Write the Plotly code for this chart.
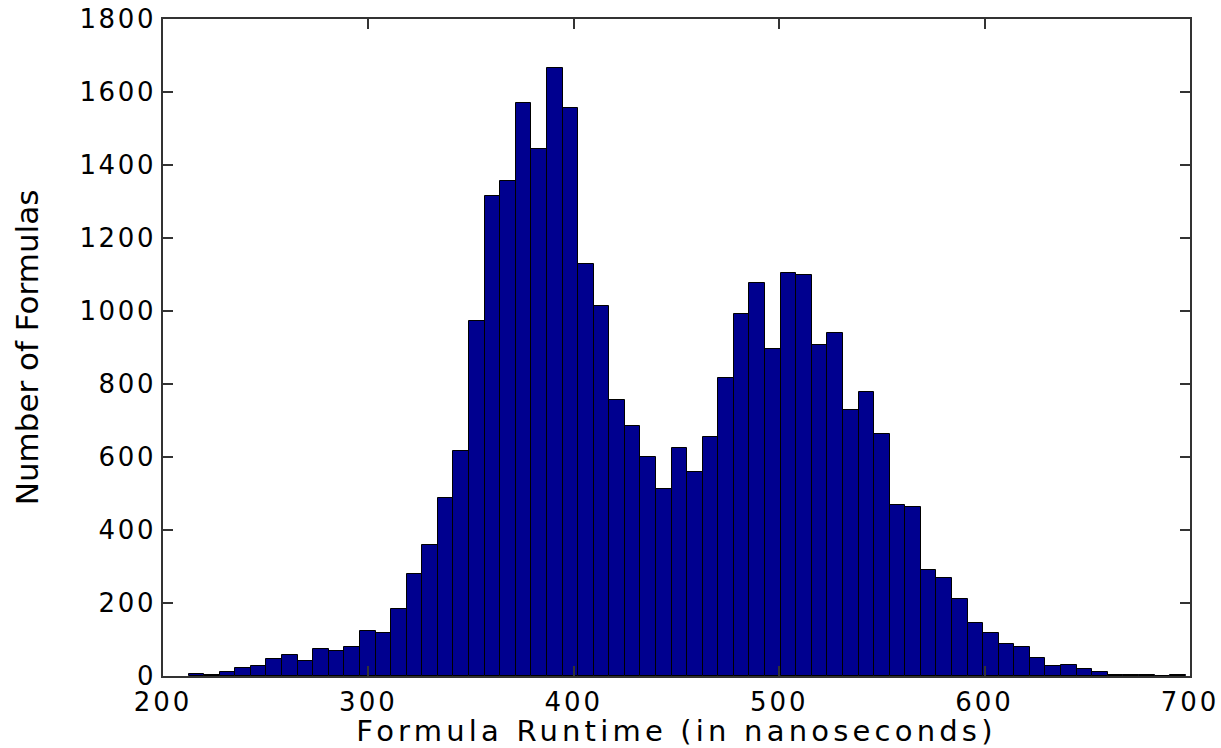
import plotly.graph_objects as go

# Histogram of formula runtimes (64 equal-width bins)
bin_start = 212.46          # left edge of first bin (ns)
bin_width = 7.585           # bin width (ns)
counts = [
    6, 3, 12, 23, 27, 46, 58, 41, 73, 69,
    80, 123, 119, 184, 280, 360, 487, 616, 973, 1314,
    1356, 1571, 1445, 1667, 1556, 1130, 1015, 755, 685, 600,
    512, 625, 559, 655, 816, 993, 1077, 896, 1104, 1100,
    907, 939, 728, 778, 663, 469, 463, 291, 269, 211,
    145, 118, 88, 80, 49, 27, 31, 18, 11, 4,
    3, 3, 1, 2,
]
x_ticks = [200, 300, 400, 500, 600, 700]
y_ticks = [0, 200, 400, 600, 800, 1000, 1200, 1400, 1600, 1800]
x_title = "Formula Runtime (in nanoseconds)"
y_title = "Number of Formulas"

FONT = "DejaVu Sans"
AXIS_COLOR = "#333333"

fig = go.Figure(
    go.Bar(
        y=counts,
        x0=bin_start + bin_width / 2,
        dx=bin_width,
        width=bin_width,
        marker=dict(color="#00008F", line=dict(color="#000000", width=1)),
        hoverinfo="x+y",
    )
)

fig.update_layout(
    width=1221,
    height=748,
    margin=dict(l=163, r=31, t=19, b=72, autoexpand=False),
    paper_bgcolor="white",
    plot_bgcolor="white",
    bargap=0,
    showlegend=False,
    font=dict(family=FONT, color="#000000", size=27),
)

fig.update_xaxes(
    range=[200, 700],
    tickvals=x_ticks,
    ticktext=[str(v) for v in x_ticks],
    ticks="inside",
    ticklen=10,
    tickwidth=1.5,
    tickcolor=AXIS_COLOR,
    showline=True,
    linecolor=AXIS_COLOR,
    linewidth=1.5,
    mirror="ticks",
    showgrid=False,
    zeroline=False,
    ticklabelstandoff=2,
    tickfont=dict(family=FONT, size=26, color="#000000"),
    title=dict(text=x_title, font=dict(family=FONT, size=29, color="#000000"), standoff=5),
    automargin=False,
)

fig.update_yaxes(
    range=[0, 1800],
    tickvals=y_ticks,
    ticktext=[str(v) for v in y_ticks],
    ticks="inside",
    ticklen=10,
    tickwidth=1.5,
    tickcolor=AXIS_COLOR,
    showline=True,
    linecolor=AXIS_COLOR,
    linewidth=1.5,
    mirror="ticks",
    showgrid=False,
    zeroline=False,
    tickfont=dict(family=FONT, size=26, color="#000000"),
    title=dict(text=y_title, font=dict(family=FONT, size=31, color="#000000"), standoff=42),
    automargin=False,
)

# The reference lettering is horizontally wide; widen it with letter spacing.
post_js = """
var gd = document.getElementById('{plot_id}');
gd.querySelectorAll('.xtick text').forEach(function(t){ t.style.letterSpacing = '3px'; });
gd.querySelectorAll('.ytick text').forEach(function(t){ t.style.letterSpacing = '2.6px'; });
gd.querySelectorAll('.g-xtitle text').forEach(function(t){ t.style.letterSpacing = '4.2px'; });
"""

fig.write_html("out.html", config={"displayModeBar": False}, post_script=post_js)
